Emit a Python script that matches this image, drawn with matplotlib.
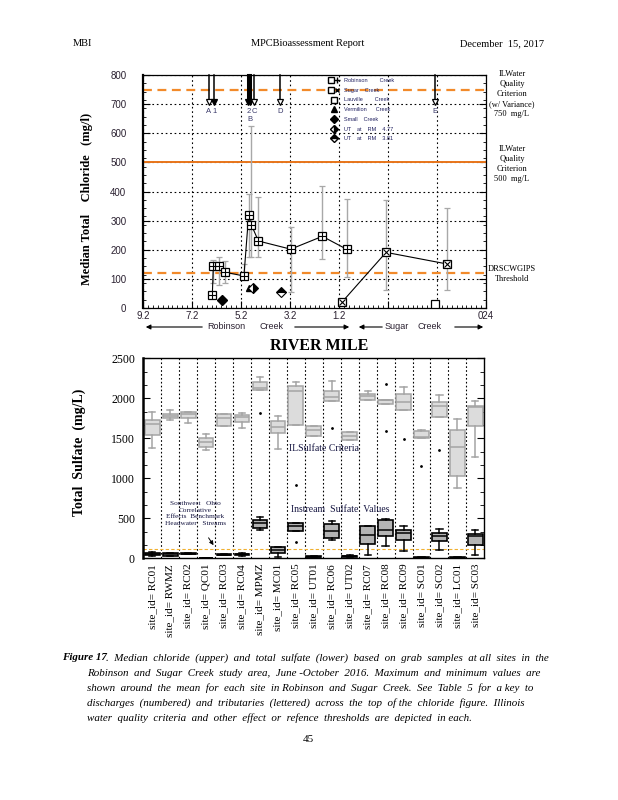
import numpy as np
import matplotlib
matplotlib.use("Agg")
import matplotlib.pyplot as plt
from matplotlib.lines import Line2D
from matplotlib.legend_handler import HandlerTuple
from matplotlib.ticker import MultipleLocator
from matplotlib import font_manager

serif = 'Liberation Serif'
names = {f.name for f in font_manager.fontManager.ttflist}
narrow = 'Liberation Sans Narrow' if 'Liberation Sans Narrow' in names else 'Liberation Sans'
plt.rcParams['font.family'] = serif

# ---- chloride (upper) ----
rob_mile = [6.37, 6.33, 6.10, 5.87, 5.08, 4.89, 4.78, 4.49, 3.17, 1.88, 0.87]
rob_cl = [45, 145, 145, 123, 110, 318, 286, 230, 202, 246, 201]
rob_max = [np.nan, 165, 174, 160, 150, 390, 624, 380, 279, 420, 373]
rob_min = [np.nan, 85, 79, 87, 105, 176, 176, 176, 54, 167, 107]
sug_mile = [1.08, -0.72, -3.22]
sug_cl = [20, 191, 151]
sug_max = [np.nan, 370, 342]
sug_min = [np.nan, 63, 63]
lau_mile, lau_cl = [-2.73], [15]
ver_mile, ver_cl = [4.86], [69]
sml_mile, sml_cl = [5.98], [27]
ut477_mile, ut477_cl = [4.70], [69]
ut381_mile, ut381_cl = [3.57], [54]

crit_750 = 750
crit_500 = 500
drscw = 120

arrow_mile = [6.51, 6.29, 4.90, 4.83, 4.66, 3.60, -2.72]
arrow_lbl = ['A', '1', '2', 'B', 'C', 'D', 'E']
arrow_fill = [False, True, True, True, False, False, False]

mile_ticks = [9.2, 7.2, 5.2, 3.2, 1.2, -0.8, -2.8, -4.8]
mile_labels = ['9.2', '7.2', '5.2', '3.2', '1.2', '', '', '024']

# ---- sulfate (lower) ----
site_ids = ['RC01', 'RWMZ', 'RC02', 'QC01', 'RC03', 'RC04', 'MPMZ', 'MC01', 'RC05', 'UT01',
            'RC06', 'UT02', 'RC07', 'RC08', 'RC09', 'SC01', 'SC02', 'LC01', 'SC03']
crit_med = [1676, 1784, 1808, 1452, 1750, 1763, 2123, 1647, 2090, 1601, 2011, 1531, 2024, 1974, 1949, 1519, 1900, 1390, 1890]
crit_q1 = [1539, 1750, 1750, 1386, 1651, 1705, 2098, 1564, 1668, 1523, 1962, 1477, 1982, 1924, 1850, 1506, 1763, 1030, 1651]
crit_q3 = [1726, 1808, 1829, 1502, 1800, 1796, 2210, 1721, 2160, 1651, 2094, 1577, 2049, 1982, 2049, 1593, 1953, 1601, 1900]
crit_lo = [1378, 1730, 1693, 1353, 1651, 1626, 2098, 1365, 1668, 1523, 1962, 1477, 1982, 1924, 1850, 1506, 1763, 885, 1270]
crit_hi = [1829, 1850, 1833, 1552, 1800, 1813, 2272, 1784, 2210, 1651, 2222, 1577, 2086, 1982, 2136, 1601, 2040, 1738, 1962]
crit_out = [[], [], [], [], [], [], [1813], [], [918], [], [1635], [], [], [2173, 1593], [1490], [1154], [1357], [], []]

so4_med = [55, 50, 57, 5, 45, 48, 446, 103, 410, 20, 339, 28, 289, 360, 322, 8, 273, 8, 273]
so4_q1 = [40, 35, 52, 2, 40, 38, 380, 61, 347, 15, 260, 22, 177, 273, 223, 3, 215, 3, 165]
so4_q3 = [70, 65, 62, 8, 50, 58, 484, 144, 438, 25, 434, 34, 409, 484, 360, 12, 322, 12, 310]
so4_lo = [30, 30, 50, 0, 38, 30, 360, 20, 347, 12, 227, 20, 37, 148, 90, 0, 99, 0, 37]
so4_hi = [75, 70, 65, 10, 52, 62, 513, 144, 438, 28, 471, 36, 409, 492, 409, 14, 368, 14, 360]
so4_out = [[], [], [], [], [], [], [], [], [198], [], [], [], [], [], [], [], [], [], []]
ohio_bench = 115

orange = '#f28a2a'
lab_col = '#2a2030'


def fx(px):
    return px / 618.0


def fy(py):
    return 1 - py / 800.0


fig = plt.figure(figsize=(6.18, 8.0), dpi=100)
fig.patch.set_facecolor('white')

# ================= upper chart =================
ax1 = fig.add_axes([fx(143), fy(308), 343 / 618, 233 / 800])
ax1.set_xlim(9.2, -4.8)
ax1.set_ylim(0, 800)
ax1.set_xticks(mile_ticks)
ax1.set_xticklabels(mile_labels, family=narrow, fontsize=7, color=lab_col)
ax1.set_yticks(range(0, 801, 100))
ax1.set_yticklabels([str(v) for v in range(0, 801, 100)], family=narrow, fontsize=7, color=lab_col)
ax1.yaxis.set_minor_locator(MultipleLocator(800 / 28))
ax1.xaxis.set_minor_locator(MultipleLocator(0.2))
ax1.tick_params(which='both', direction='in', right=True)
ax1.tick_params(which='major', length=5, width=0.8)
ax1.tick_params(which='minor', length=2.5, width=0.6)
ax1.tick_params(axis='y', pad=12)
ax1.tick_params(axis='x', pad=2)
ax1.grid(True, which='major', linestyle=(0, (1.5, 2.5)), color='k', lw=0.8)
for s in ax1.spines.values():
    s.set_linewidth(0.9)
ax1.spines['left'].set_linewidth(1.6)

ax1.axhline(crit_750, color=orange, lw=1.6, ls=(0, (4, 2.5)), zorder=2)
ax1.axhline(crit_500, color='#e8751a', lw=1.4, zorder=2)
ax1.axhline(drscw, color=orange, lw=1.6, ls=(0, (4, 2.5)), zorder=2)

# error bars
def bars(ax, x, y, lo, hi):
    x = np.array(x); y = np.array(y, float); lo = np.array(lo, float); hi = np.array(hi, float)
    m = ~np.isnan(lo)
    ax.errorbar(x[m], y[m], yerr=[y[m] - lo[m], hi[m] - y[m]], fmt='none',
                ecolor='#a8a8a8', elinewidth=1.0, capsize=2.2, capthick=0.9, zorder=3)

bars(ax1, rob_mile, rob_cl, rob_min, rob_max)
bars(ax1, sug_mile, sug_cl, sug_min, sug_max)

ms = 5.5
ax1.plot(rob_mile, rob_cl, color='k', lw=0.8, marker='s', ms=ms, mfc='white', mec='k', mew=0.9, zorder=5)
ax1.plot(rob_mile, rob_cl, ls='none', marker='+', ms=ms, mec='k', mew=0.8, zorder=6)
ax1.plot(sug_mile, sug_cl, color='k', lw=0.8, marker='s', ms=ms, mfc='white', mec='k', mew=0.9, zorder=5)
ax1.plot(sug_mile, sug_cl, ls='none', marker='x', ms=ms - 1.5, mec='k', mew=0.8, zorder=6)
ax1.plot(lau_mile, lau_cl, ls='none', marker='s', ms=ms, mfc='white', mec='k', mew=0.9, zorder=5)
ax1.plot(ver_mile, ver_cl, ls='none', marker='^', ms=5, color='k', zorder=5)
ax1.plot(sml_mile, sml_cl, ls='none', marker='D', ms=5, color='k', zorder=5)
ax1.plot(ut477_mile, ut477_cl, ls='none', marker='D', ms=5, color='k', mfc='k', mfcalt='white',
         fillstyle='right', mew=0.8, zorder=5)
ax1.plot(ut381_mile, ut381_cl, ls='none', marker='D', ms=5, color='k', mfc='k', mfcalt='white',
         fillstyle='top', mew=0.8, zorder=5)

# discharge / tributary arrows along the top
for m, lb, f in zip(arrow_mile, arrow_lbl, arrow_fill):
    ax1.plot([m, m], [800, 712], color='k', lw=2.2 if lb in ('2', 'B') else 1.1, zorder=4, clip_on=False)
    ax1.plot([m], [708], marker='v', ms=4.5, mec='k', mfc='k' if f else 'white', mew=0.9, zorder=5)
    yl = 646 if lb == 'B' else 675
    ax1.text(m, yl, lb, ha='center', va='center', family=narrow, fontsize=5.5, color='#3a3a6a')

# legend
sq_plus = (Line2D([], [], color='k', lw=0.8, marker='s', ms=4.5, mfc='white'),
           Line2D([], [], color='k', lw=0, marker='+', ms=4.5))
sq_x = (Line2D([], [], color='k', lw=0.8, marker='s', ms=4.5, mfc='white'),
        Line2D([], [], color='k', lw=0, marker='x', ms=3.2))
handles = [sq_plus, sq_x,
           Line2D([], [], lw=0, marker='s', ms=4.5, mfc='white', mec='k'),
           Line2D([], [], lw=0, marker='^', ms=4.5, color='k'),
           Line2D([], [], lw=0, marker='D', ms=4.5, color='k'),
           Line2D([], [], lw=0, marker='D', ms=4.5, color='k', mfcalt='white', fillstyle='right'),
           Line2D([], [], lw=0, marker='D', ms=4.5, color='k', mfcalt='white', fillstyle='top')]
labels = ['Robinson        Creek', 'Sugar    Creek', 'Lauville        Creek', 'Vermilion      Creek',
          'Small    Creek', 'UT    at    RM    4.77', 'UT    at    RM    3.81']
ax1.legend(handles, labels, handler_map={tuple: HandlerTuple(ndivide=None)},
           loc='upper left', bbox_to_anchor=((328 - 143) / 343, (308 - 78) / 233),
           frameon=False, fontsize=4, labelcolor='#202060', handlelength=2.2,
           handletextpad=0.6, labelspacing=0.85, borderaxespad=0, borderpad=0,
           prop={'family': narrow, 'size': 4})

ax1.set_ylabel('Median Total    Chloride   (mg/l)', fontsize=9, fontweight='bold', labelpad=6)
ax1.yaxis.set_label_coords((93 - 143) / 343, 0.47)

# criteria notes on the right
fig.text(fx(512), fy(94), 'ILWater\nQuality\nCriterion\n(w/ Variance)\n750  mg/L', ha='center', va='center',
         fontsize=6, linespacing=1.35)
fig.text(fx(512), fy(164), 'ILWater\nQuality\nCriterion\n500  mg/L', ha='center', va='center',
         fontsize=6, linespacing=1.35)
fig.text(fx(512), fy(274), 'DRSCWGIPS\nThreshold', ha='center', va='center', fontsize=6, linespacing=1.35)

# river direction arrows below axis
ya = fy(327)
aprops = dict(arrowstyle='-|>', color='k', lw=0.8, mutation_scale=7)
fig.add_artist(matplotlib.patches.FancyArrowPatch((fx(205), ya), (fx(143), ya), transform=fig.transFigure, **aprops))
fig.add_artist(matplotlib.patches.FancyArrowPatch((fx(292), ya), (fx(352), ya), transform=fig.transFigure, **aprops))
fig.add_artist(matplotlib.patches.FancyArrowPatch((fx(385), ya), (fx(356), ya), transform=fig.transFigure, **aprops))
fig.add_artist(matplotlib.patches.FancyArrowPatch((fx(452), ya), (fx(486), ya), transform=fig.transFigure, **aprops))
fig.text(fx(226), ya, 'Robinson', ha='center', va='center', family=narrow, fontsize=6.5, color=lab_col)
fig.text(fx(271), ya, 'Creek', ha='center', va='center', family=narrow, fontsize=6.5, color=lab_col)
fig.text(fx(397), ya, 'Sugar', ha='center', va='center', family=narrow, fontsize=6.5, color=lab_col)
fig.text(fx(430), ya, 'Creek', ha='center', va='center', family=narrow, fontsize=6.5, color=lab_col)

fig.text(fx(319), fy(346), 'RIVER MILE', ha='center', va='center', fontsize=11.5, fontweight='bold')

# ================= lower chart =================
ax2 = fig.add_axes([fx(143.3), fy(558.3), 341 / 618, 200 / 800])
pos = np.arange(len(site_ids))


def stats(med, q1, q3, lo, hi, out):
    return [dict(med=a, q1=b, q3=c, whislo=d, whishi=e, fliers=f)
            for a, b, c, d, e, f in zip(med, q1, q3, lo, hi, out)]


ax2.bxp(stats(crit_med, crit_q1, crit_q3, crit_lo, crit_hi, crit_out), positions=pos, widths=0.82,
        patch_artist=True, capwidths=0.35,
        boxprops=dict(facecolor='#dcdcdc', edgecolor='#a4a4a4', lw=1.1),
        medianprops=dict(color='#a4a4a4', lw=1.1),
        whiskerprops=dict(color='#a4a4a4', lw=1.1),
        capprops=dict(color='#a4a4a4', lw=1.1),
        flierprops=dict(marker='.', ms=2, mfc='k', mec='k'))
ax2.bxp(stats(so4_med, so4_q1, so4_q3, so4_lo, so4_hi, so4_out), positions=pos, widths=0.82,
        patch_artist=True, capwidths=0.35,
        boxprops=dict(facecolor='#b4b4b4', edgecolor='k', lw=1.2),
        medianprops=dict(color='k', lw=1.1),
        whiskerprops=dict(color='k', lw=1.1),
        capprops=dict(color='k', lw=1.1),
        flierprops=dict(marker='.', ms=2, mfc='k', mec='k'))

ax2.axhline(ohio_bench, color='#f0b030', lw=0.8, ls=(0, (3, 2)), zorder=1)
for b in pos[:-1]:
    ax2.axvline(b + 0.5, color='k', lw=0.8, ls=(0, (1.5, 2)), zorder=0)

ax2.set_xlim(-0.5, len(site_ids) - 0.5)
ax2.set_ylim(0, 2500)
ax2.set_xticks(pos)
ax2.set_xticklabels(['site_id= ' + s for s in site_ids], rotation=90, fontsize=8)
ax2.set_yticks(range(0, 2501, 500))
ax2.tick_params(axis='y', labelsize=8.5, direction='in', right=True, length=5, pad=6)
ax2.tick_params(axis='x', length=0, pad=4)
ax2.yaxis.set_minor_locator(MultipleLocator(2500 / 15))
ax2.tick_params(which='minor', direction='in', right=True, length=3)
for s in ax2.spines.values():
    s.set_linewidth(1.0)
ax2.spines['left'].set_linewidth(1.8)
ax2.set_ylabel('Total  Sulfate  (mg/L)', fontsize=10, fontweight='bold')
ax2.yaxis.set_label_coords((86 - 143.3) / 341, 0.53)

ax2.text(7.6, 1370, 'ILSulfate Criteria', fontsize=7, va='center', ha='left', color='#141440')
ax2.text(7.75, 612, 'Instream  Sulfate  Values', fontsize=7, va='center', ha='left', color='#141440')
ax2.text(2.4, 560, 'Southwest   Ohio\nCorrelative\nEffects  Benchmark\nHeadwater   Streams', fontsize=5.2,
         ha='center', va='center', linespacing=1.45, color='#141440')
ax2.annotate('', xy=(3.5, 135), xytext=(3.05, 285),
             arrowprops=dict(arrowstyle='-|>', color='k', lw=0.7, mutation_scale=6))

# ================= page text =================
fig.text(fx(73), fy(44), 'MBI', fontsize=7.5, va='center')
fig.text(fx(308), fy(44), 'MPCBioassessment Report', fontsize=7.5, va='center', ha='center')
fig.text(fx(544), fy(44), 'December  15, 2017', fontsize=7.5, va='center', ha='right')

cap_lines = [
    '.  Median  chloride  (upper)  and  total  sulfate  (lower)  based  on  grab  samples  at all  sites  in  the',
    'Robinson  and  Sugar  Creek  study  area,  June -October  2016.  Maximum  and  minimum  values  are',
    'shown  around  the  mean  for  each  site  in Robinson  and  Sugar  Creek.  See  Table  5  for  a key  to',
    'discharges  (numbered)  and  tributaries  (lettered)  across  the  top  of the  chloride  figure.  Illinois',
    'water  quality  criteria  and  other  effect  or  refence  thresholds  are  depicted  in each.',
]
cap_fs = 7.9
fig.text(fx(62), fy(658), 'Figure 17', fontsize=cap_fs, style='italic', fontweight='bold', va='center')
fig.text(fx(106.5), fy(658), cap_lines[0], fontsize=cap_fs, style='italic', va='center')
for i, ln in enumerate(cap_lines[1:]):
    fig.text(fx(87), fy(673 + 15 * i), ln, fontsize=cap_fs, style='italic', va='center')
fig.text(fx(308), fy(740), '45', fontsize=8, ha='center', va='center')

fig.savefig('out.png', dpi=100)
